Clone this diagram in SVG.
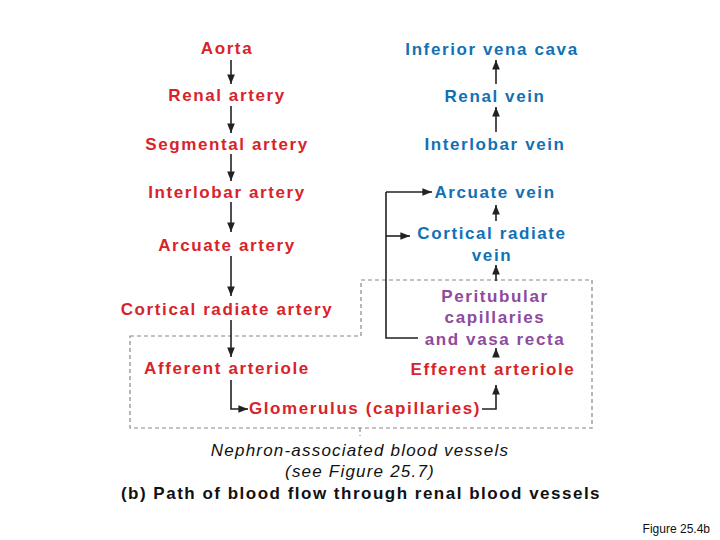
<svg xmlns="http://www.w3.org/2000/svg" width="720" height="540" viewBox="0 0 720 540">
<defs>
<marker id="ah" viewBox="0 0 10 10" refX="10" refY="5" markerWidth="6" markerHeight="6" orient="auto"><path d="M0,1 L10,5 L0,9 Z" fill="#222"/></marker>
<style>
text{font-family:"Liberation Sans",Arial,sans-serif;font-size:17px;font-weight:bold;text-anchor:middle;letter-spacing:1.6px}
.r{fill:#d8232a}.b{fill:#1271b4}.p{fill:#8e4a9e}
.c{stroke:#222;stroke-width:1.6;fill:none;marker-end:url(#ah)}
.k{fill:#111;font-weight:normal;letter-spacing:1.2px}
</style>
</defs>
<rect width="720" height="540" fill="#fff"/>
<path d="M130,336 H361 V280 H592 V428 H130 Z M360,428 V436" fill="none" stroke="#888" stroke-width="1.2" stroke-dasharray="4,3"/>
<g id="connectors">
<path class="c" d="M231,60 V84"/>
<path class="c" d="M231,106 V133"/>
<path class="c" d="M231,154 V181"/>
<path class="c" d="M231,202 V232"/>
<path class="c" d="M231,256 V296"/>
<path class="c" d="M231,320 V357"/>
<path class="c" d="M231,380 V409 H248"/>
<path class="c" d="M482,409 H496 V385"/>
<path class="c" d="M496,353 V348"/>
<path class="c" d="M496,281 V265"/>
<path class="c" d="M496,221 V205"/>
<path class="c" d="M496,132 V107"/>
<path class="c" d="M496,84 V60"/>
<path d="M418,338 H386 V192" stroke="#222" stroke-width="1.6" fill="none"/>
<path class="c" d="M386,192 H432"/>
<path class="c" d="M386,236 H410"/>
</g>
<g id="aorta"><text class="r" x="227" y="54">Aorta</text></g>
<g id="renal-artery"><text class="r" x="227" y="101">Renal artery</text></g>
<g id="segmental-artery"><text class="r" x="227" y="150">Segmental artery</text></g>
<g id="interlobar-artery"><text class="r" x="227" y="198">Interlobar artery</text></g>
<g id="arcuate-artery"><text class="r" x="227" y="251">Arcuate artery</text></g>
<g id="cortical-radiate-artery"><text class="r" x="227" y="315">Cortical radiate artery</text></g>
<g id="afferent-arteriole"><text class="r" x="227" y="374">Afferent arteriole</text></g>
<g id="glomerulus"><text class="r" x="365" y="414">Glomerulus (capillaries)</text></g>
<g id="efferent-arteriole"><text class="r" x="493" y="375">Efferent arteriole</text></g>
<g id="peritubular"><text class="p" x="495" y="302">Peritubular</text><text class="p" x="495" y="323">capillaries</text><text class="p" x="495" y="345">and vasa recta</text></g>
<g id="cortical-radiate-vein"><text class="b" x="492" y="239">Cortical radiate</text><text class="b" x="492" y="261">vein</text></g>
<g id="arcuate-vein"><text class="b" x="495" y="198">Arcuate vein</text></g>
<g id="interlobar-vein"><text class="b" x="495" y="150">Interlobar vein</text></g>
<g id="renal-vein"><text class="b" x="495" y="102">Renal vein</text></g>
<g id="ivc"><text class="b" x="492" y="55">Inferior vena cava</text></g>
<text class="k" x="360" y="456" font-style="italic">Nephron-associated blood vessels</text>
<text class="k" x="360" y="477" font-style="italic">(see Figure 25.7)</text>
<text class="k" x="361" y="499" style="font-weight:bold;letter-spacing:1.5px">(b) Path of blood flow through renal blood vessels</text>
<text class="k" x="710" y="533" style="font-size:12px;text-anchor:end;letter-spacing:0">Figure 25.4b</text>
</svg>
